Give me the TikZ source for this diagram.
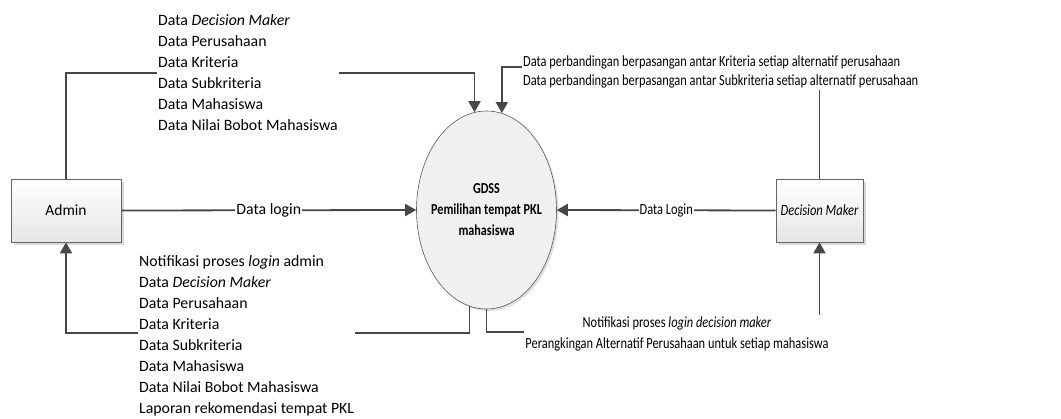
\documentclass[tikz,border=0pt]{standalone}
\usepackage{fontspec}
\setmainfont{Carlito}
\newfontfamily\narrowfam{Carlito}[FakeStretch=0.8]
\usetikzlibrary{arrows.meta,shapes.geometric,shadows}
\begin{document}
\begin{tikzpicture}[x=1pt,y=-1pt,
  bigfont/.style={font=\fontsize{15.8}{21}\selectfont},
  smallfont/.style={font=\narrowfam\fontsize{15.5}{21}\selectfont},
  extbox/.style={draw=black!60, line width=0.7pt, top color=white, bottom color=black!10,
     minimum height=63pt, inner sep=0pt,
     drop shadow={shadow xshift=2.5pt, shadow yshift=-2.5pt, fill=black!25, opacity=0.6}},
  proc/.style={ellipse, draw=black!65, line width=0.6pt, fill=black!6, minimum width=140pt,
     minimum height=198pt, inner sep=0pt,
     drop shadow={shadow xshift=2pt, shadow yshift=-2pt, fill=black!25, opacity=0.5}},
  flow/.style={draw=black!72, line width=1.8pt, -{Triangle[length=11pt,width=12pt]}},
  lbl/.style={fill=white, inner xsep=1pt, inner ysep=0pt},
  blk/.style={fill=white, inner xsep=1pt, inner ysep=1pt, align=left}]
\useasboundingbox (0,0) rectangle (1061,418);

\node[extbox, minimum width=110pt, font=\fontsize{15.5}{18}\selectfont] (admin) at (66,210.5) {Admin};
\node[extbox, minimum width=87pt, font=\narrowfam\fontsize{15.6}{18}\selectfont\itshape] (dm) at (819.5,210.5) {Decision Maker};
\node[proc] (p) at (486.5,210) {};
\node[align=center, font=\narrowfam\fontsize{15.2}{21}\selectfont\bfseries] (pt) at (p.center) {GDSS\\Pemilihan tempat PKL\\mahasiswa};

% login flows
\draw[flow] (admin.east) -- node[lbl, bigfont] (l1) {Data login} (p.west);
\draw[flow] (dm.west) -- node[lbl, smallfont] (l2) {Data Login} (p.east);

% admin input
\draw[flow] (admin.north) |- (p.97 |- 0,73) -- (p.97);
\node[blk, bigfont, anchor=west] (t1) at (157,73) {Data \textit{Decision Maker}\\Data Perusahaan\\Data Kriteria\\Data Subkriteria\\Data Mahasiswa\\Data Nilai Bobot Mahasiswa};

% decision maker input
\draw[flow] (dm.north) |- (p.81 |- 0,67) -- (p.81);
\node[blk, font=\narrowfam\fontsize{15.5}{19.4}\selectfont, inner ysep=2pt, anchor=west] (t2) at (522,72) {Data perbandingan berpasangan antar Kriteria setiap alternatif perusahaan\\Data perbandingan berpasangan antar Subkriteria setiap alternatif perusahaan};

% output to admin
\draw[flow] (p.260.7) -- (p.260.7 |- 0,333) -| (admin.south);
\node[blk, bigfont, anchor=west] (t3) at (138,335.5) {Notifikasi proses \textit{login} admin\\Data \textit{Decision Maker}\\Data Perusahaan\\Data Kriteria\\Data Subkriteria\\Data Mahasiswa\\Data Nilai Bobot Mahasiswa\\Laporan rekomendasi tempat PKL};

% output to decision maker
\draw[flow] (p.south) -- (p.south |- 0,332) -| (dm.south);
\node[blk, smallfont, align=center, inner ysep=2pt] (t4) at (677,334) {Notifikasi proses \textit{login decision maker}\\Perangkingan Alternatif Perusahaan untuk setiap mahasiswa};
\end{tikzpicture}
\end{document}
